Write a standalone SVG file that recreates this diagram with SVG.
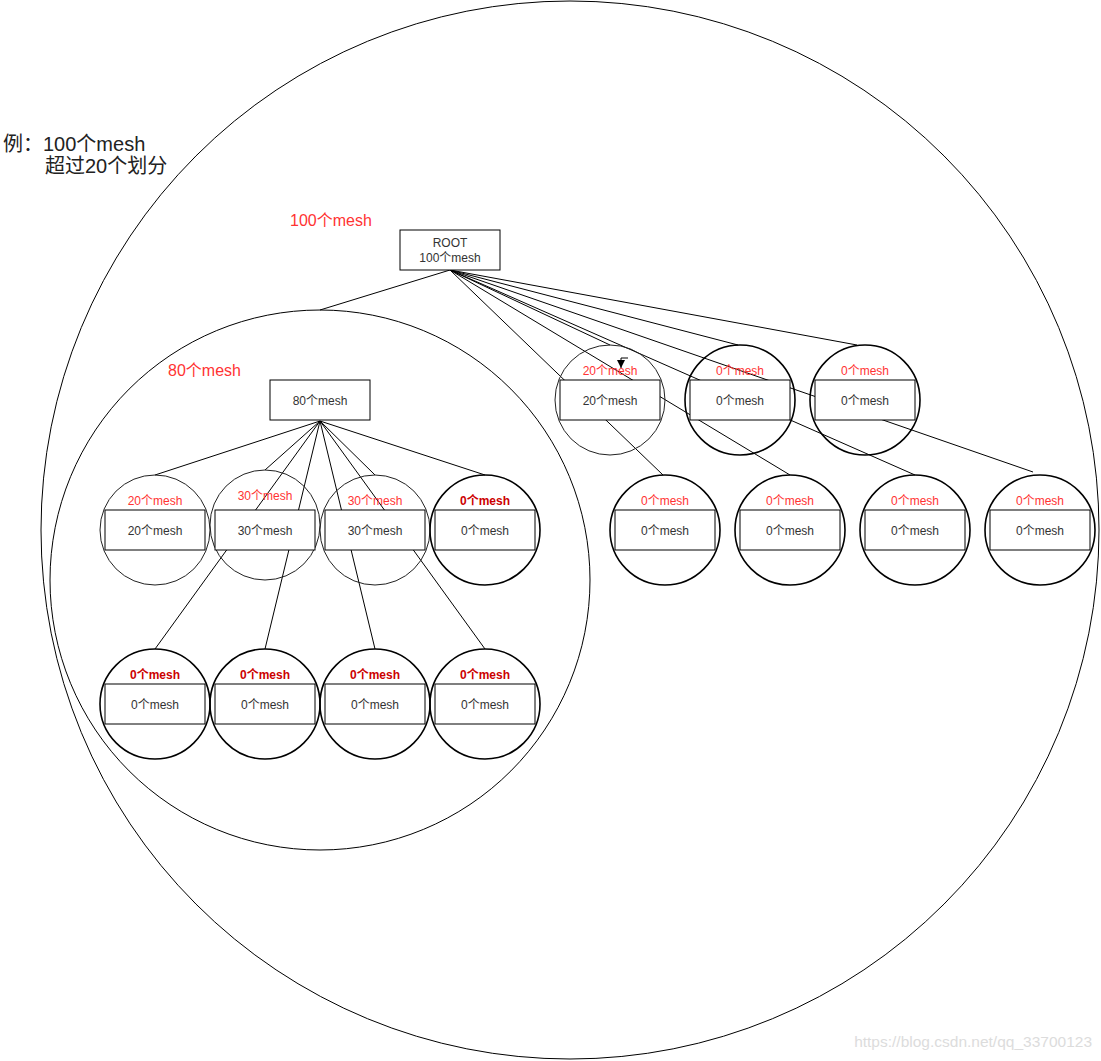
<svg xmlns="http://www.w3.org/2000/svg" width="1101" height="1061" viewBox="0 0 1101 1061">
<style>
.bg{fill:#fff}
.ring{fill:none;stroke:#000;stroke-width:1}
.c{fill:none;stroke:#222;stroke-width:1}
.ct{fill:none;stroke:#000;stroke-width:1.6}
.b{fill:#fff;stroke:#000;stroke-width:1}
.t{font-family:"Liberation Sans","Noto Sans CJK SC",sans-serif;font-size:12px;fill:#333;text-anchor:middle}
.r{font-family:"Liberation Sans","Noto Sans CJK SC",sans-serif;font-size:12px;fill:#FF3333;text-anchor:middle}
.rb{font-family:"Liberation Sans","Noto Sans CJK SC",sans-serif;font-size:12px;fill:#CC0000;font-weight:bold;text-anchor:middle}
.big{font-family:"Liberation Sans","Noto Sans CJK SC",sans-serif;font-size:20px;fill:#222}
.rl{font-family:"Liberation Sans","Noto Sans CJK SC",sans-serif;font-size:16px;fill:#FF3333}
.e{fill:none;stroke:#000;stroke-width:1}
</style>
<defs>
<marker id="arr" markerWidth="8" markerHeight="8" refX="8" refY="4" orient="auto" markerUnits="userSpaceOnUse" viewBox="0 0 8 8">
<path d="M0,0 L8,4 L0,8 Z" fill="#000"/>
</marker>
</defs>
<rect class="bg" x="0" y="0" width="1101" height="1061"/>
<g id="outer">
<circle class="ring" cx="570" cy="530" r="529"/>
<text class="big" x="3" y="151">例：100个mesh</text>
<text class="big" x="45" y="173">超过20个划分</text>
<text class="rl" x="290" y="226">100个mesh</text>
</g>
<g id="region80">
<circle class="ring" cx="320" cy="580" r="270"/>
<text class="rl" x="168" y="376">80个mesh</text>
</g>
<g id="connectors">
<line class="e" x1="450" y1="270" x2="320" y2="310"/>
<line class="e" x1="450" y1="270" x2="610" y2="345"/>
<line class="e" x1="450" y1="270" x2="738" y2="345"/>
<line class="e" x1="450" y1="270" x2="857" y2="345"/>
<line class="e" x1="450" y1="270" x2="663" y2="475"/>
<line class="e" x1="450" y1="270" x2="790" y2="475"/>
<line class="e" x1="450" y1="270" x2="915" y2="475"/>
<line class="e" x1="450" y1="270" x2="1033" y2="472"/>
<line class="e" x1="320" y1="421" x2="155" y2="475"/>
<line class="e" x1="320" y1="421" x2="265" y2="470"/>
<line class="e" x1="320" y1="421" x2="155" y2="649"/>
<line class="e" x1="320" y1="421" x2="265" y2="649" stroke-width="1.6"/>
<line class="e" x1="320" y1="421" x2="375" y2="649"/>
<line class="e" x1="320" y1="421" x2="375" y2="475"/>
<line class="e" x1="320" y1="421" x2="485" y2="649"/>
<line class="e" x1="320" y1="421" x2="485" y2="475"/>
<path class="e" d="M628,358 H621 V368" marker-end="url(#arr)"/>
</g>
<g id="root">
<rect class="b" x="400" y="230" width="100" height="40"/>
<text class="t" x="450" y="247">ROOT</text>
<text class="t" x="450" y="262">100个mesh</text>
</g>
<g id="n80">
<rect class="b" x="270" y="380" width="100" height="40"/>
<text class="t" x="320" y="405">80个mesh</text>
</g>
<g id="l1">
<circle class="c" cx="155" cy="530" r="55"/>
<text class="r" x="155" y="505">20个mesh</text>
<rect class="b" x="105" y="510" width="100" height="40"/>
<text class="t" x="155" y="535">20个mesh</text>
</g>
<g id="l2">
<circle class="c" cx="265" cy="525" r="55"/>
<text class="r" x="265" y="500">30个mesh</text>
<rect class="b" x="215" y="510" width="100" height="40"/>
<text class="t" x="265" y="535">30个mesh</text>
</g>
<g id="l3">
<circle class="c" cx="375" cy="530" r="55"/>
<text class="r" x="375" y="505">30个mesh</text>
<rect class="b" x="325" y="510" width="100" height="40"/>
<text class="t" x="375" y="535">30个mesh</text>
</g>
<g id="l4">
<circle class="ct" cx="485" cy="530" r="55"/>
<text class="rb" x="485" y="505">0个mesh</text>
<rect class="b" x="435" y="510" width="100" height="40"/>
<text class="t" x="485" y="535">0个mesh</text>
</g>
<g id="m1">
<circle class="ct" cx="155" cy="704" r="55"/>
<text class="rb" x="155" y="679">0个mesh</text>
<rect class="b" x="105" y="684" width="100" height="40"/>
<text class="t" x="155" y="709">0个mesh</text>
</g>
<g id="m2">
<circle class="ct" cx="265" cy="704" r="55"/>
<text class="rb" x="265" y="679">0个mesh</text>
<rect class="b" x="215" y="684" width="100" height="40"/>
<text class="t" x="265" y="709">0个mesh</text>
</g>
<g id="m3">
<circle class="ct" cx="375" cy="704" r="55"/>
<text class="rb" x="375" y="679">0个mesh</text>
<rect class="b" x="325" y="684" width="100" height="40"/>
<text class="t" x="375" y="709">0个mesh</text>
</g>
<g id="m4">
<circle class="ct" cx="485" cy="704" r="55"/>
<text class="rb" x="485" y="679">0个mesh</text>
<rect class="b" x="435" y="684" width="100" height="40"/>
<text class="t" x="485" y="709">0个mesh</text>
</g>
<g id="r1">
<circle class="c" cx="610" cy="400" r="55"/>
<text class="r" x="610" y="375">20个mesh</text>
<rect class="b" x="560" y="380" width="100" height="40"/>
<text class="t" x="610" y="405">20个mesh</text>
</g>
<g id="r2">
<circle class="ct" cx="740" cy="400" r="55"/>
<text class="r" x="740" y="375">0个mesh</text>
<rect class="b" x="690" y="380" width="100" height="40"/>
<text class="t" x="740" y="405">0个mesh</text>
</g>
<g id="r3">
<circle class="ct" cx="865" cy="400" r="55"/>
<text class="r" x="865" y="375">0个mesh</text>
<rect class="b" x="815" y="380" width="100" height="40"/>
<text class="t" x="865" y="405">0个mesh</text>
</g>
<g id="s1">
<circle class="ct" cx="665" cy="530" r="55"/>
<text class="r" x="665" y="505">0个mesh</text>
<rect class="b" x="615" y="510" width="100" height="40"/>
<text class="t" x="665" y="535">0个mesh</text>
</g>
<g id="s2">
<circle class="ct" cx="790" cy="530" r="55"/>
<text class="r" x="790" y="505">0个mesh</text>
<rect class="b" x="740" y="510" width="100" height="40"/>
<text class="t" x="790" y="535">0个mesh</text>
</g>
<g id="s3">
<circle class="ct" cx="915" cy="530" r="55"/>
<text class="r" x="915" y="505">0个mesh</text>
<rect class="b" x="865" y="510" width="100" height="40"/>
<text class="t" x="915" y="535">0个mesh</text>
</g>
<g id="s4">
<circle class="ct" cx="1040" cy="530" r="55"/>
<text class="r" x="1040" y="505">0个mesh</text>
<rect class="b" x="990" y="510" width="100" height="40"/>
<text class="t" x="1040" y="535">0个mesh</text>
</g>
<text x="1092" y="1047" font-family="Liberation Sans, sans-serif" font-size="15.5" fill="#dcdcdc" text-anchor="end">https://blog.csdn.net/qq_33700123</text>
</svg>
